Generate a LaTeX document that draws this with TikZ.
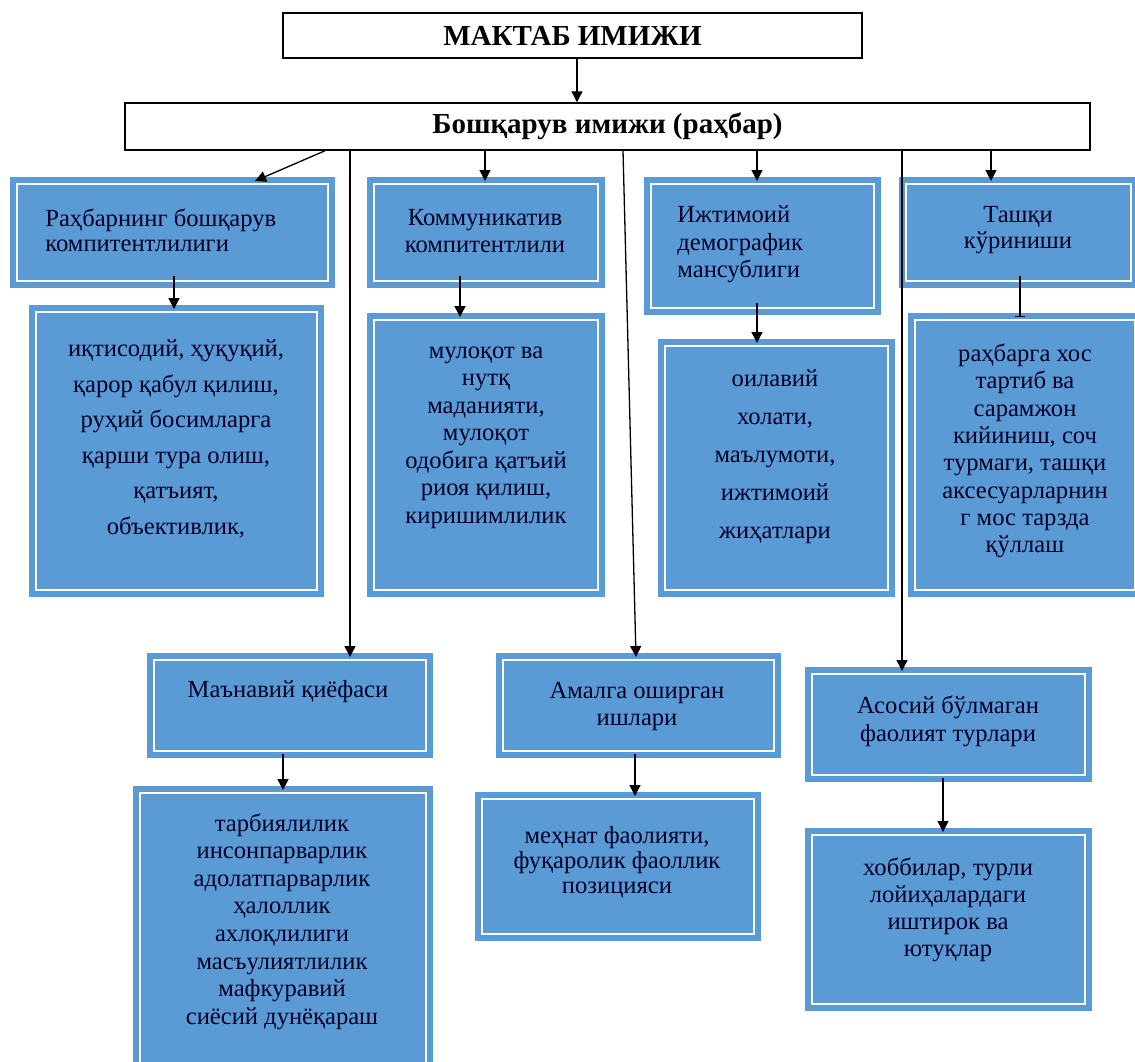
\documentclass[tikz,border=0pt]{standalone}
\usepackage{fontspec}
\setmainfont{Liberation Serif}
\usetikzlibrary{arrows.meta}

\definecolor{boxblue}{RGB}{91,155,213}

\tikzset{
	imgbox/.style = {rectangle, draw = boxblue, fill = boxblue, double = white, double distance = 1.1pt, line width = 3pt, inner sep = 0pt},
	headbox/.style = {rectangle, draw = black, line width = 0.75pt, fill = white, inner sep = 0pt, font = \bfseries\fontsize{14.5}{16}\selectfont},
	txt/.style = {align = center, inner sep = 0pt, text = black!85!blue, font = \fontsize{12.3}{#1}\selectfont},
	txt/.default = 13.5pt,
	lnk/.style = {-{Triangle[width = 5.5pt, length = 5.5pt]}, line width = 0.65pt},
	sublnk/.style = {lnk, shorten <= -4pt},
}

\begin{document}
\begin{tikzpicture}[x = 0.5pt, y = -0.5pt]
	\useasboundingbox (0,0) rectangle (1135,1061);

	\node[headbox, minimum width = 289.5pt, minimum height = 22.5pt](school) at (572.5,35.5){МАКТАБ ИМИЖИ};
	\node[headbox, minimum width = 482.5pt, minimum height = 23.5pt](lead) at (607.5,126.5){Бошқарув имижи (раҳбар)};

	\node[imgbox, minimum width = 155.5pt, minimum height = 48.5pt](b1) at (172.5,232.5){};
	\node[imgbox, minimum width = 112pt, minimum height = 48.5pt](b2) at (486,232.5){};
	\node[imgbox, minimum width = 111.5pt, minimum height = 62pt](b3) at (762.5,246){};
	\node[imgbox, minimum width = 112.5pt, minimum height = 48.5pt](b4) at (1018.5,232.5){};

	\node[imgbox, minimum width = 140.5pt, minimum height = 139pt](b1x) at (176.5,451){};
	\node[imgbox, minimum width = 112pt, minimum height = 135pt](b2x) at (486,455){};
	\node[imgbox, minimum width = 111.5pt, minimum height = 122pt](b3x) at (776.5,468){};
	\node[imgbox, minimum width = 110pt, minimum height = 135pt](b4x) at (1025,455){};

	\node[imgbox, minimum width = 136pt, minimum height = 45.5pt](b5) at (290,705.5){};
	\node[imgbox, minimum width = 135.5pt, minimum height = 45.5pt](b6) at (638.5,705.5){};
	\node[imgbox, minimum width = 136.5pt, minimum height = 50.5pt](b7) at (948.5,724.5){};

	\node[imgbox, minimum width = 143pt, minimum height = 140pt](b5x) at (283,933){};
	\node[imgbox, minimum width = 136pt, minimum height = 67.5pt](b6x) at (618,866.5){};
	\node[imgbox, minimum width = 136.5pt, minimum height = 84.5pt](b7x) at (948.5,919.5){};

	\node[txt = 12.5pt, align = left, anchor = west](t1) at (45,230.5){Раҳбарнинг бошқарув\\компитентлилиги};
	\node[txt](t2) at (485,231.5){Коммуникатив\\компитентлили};
	\node[txt = 13.75pt, align = left, anchor = west](t3) at (677,244.5){Ижтимоий\\демографик\\мансублиги};
	\node[txt = 13pt](t4) at (1018,230){Ташқи\\кўриниши};

	\node[txt = 17.75pt](t1x) at (176,439){иқтисодий, ҳуқуқий,\\қарор қабул қилиш,\\руҳий босимларга\\қарши тура олиш,\\қатъият,\\объективлик,};
	\node[txt = 13.75pt](t2x) at (486,437.5){мулоқот ва\\нутқ\\маданияти,\\мулоқот\\одобига қатъий\\риоя қилиш,\\киришимлилик};
	\node[txt = 19pt](t3x) at (775,456.5){оилавий\\холати,\\маълумоти,\\ижтимоий\\жиҳатлари};
	\node[txt = 13.65pt](t4x) at (1025,451){раҳбарга хос\\тартиб ва\\сарамжон\\кийиниш, соч\\турмаги, ташқи\\аксесуарларнин\\г мос тарзда\\қўллаш};

	\node[txt](t5) at (288,692){Маънавий қиёфаси};
	\node[txt](t6) at (637,706.5){Амалга оширган\\ишлари};
	\node[txt = 14pt](t7) at (948,721){Асосий бўлмаган\\фаолият турлари};

	\node[txt = 13.8pt](t5x) at (282,921.5){тарбиялилик\\инсонпарварлик\\адолатпарварлик\\ҳалоллик\\ахлоқлилиги\\масъулиятлилик\\мафкуравий\\сиёсий дунёқараш};
	\node[txt = 12.5pt](t6x) at (617,862){меҳнат фаолияти,\\фуқаролик фаоллик\\позицияси};
	\node[txt = 13.4pt](t7x) at (948,910){хоббилар, турли\\лойиҳалардаги\\иштирок ва\\ютуқлар};

	\draw[lnk] (school.south -| 577,0) -- (lead.north -| 577,0);
	\draw[lnk] (lead.south -| 325,0) -- (b1.north -| 255,0);
	\draw[lnk] (lead.south -| 350,0) -- (b5.north -| 350,0);
	\draw[lnk] (lead.south -| 485,0) -- (b2.north -| 485,0);
	\draw[lnk] (lead.south -| 623,0) -- (b6.north -| 636,0);
	\draw[lnk] (lead.south -| 757,0) -- (b3.north -| 757,0);
	\draw[lnk] (lead.south -| 902,0) -- (b7.north -| 902,0);
	\draw[lnk] (lead.south -| 991,0) -- (b4.north -| 991,0);

	\draw[sublnk] (b1.south -| 174,0) -- (b1x.north -| 174,0);
	\draw[sublnk] (b2.south -| 460,0) -- (b2x.north -| 460,0);
	\draw[sublnk] (b3.south -| 757,0) -- (b3x.north -| 757,0);
	\draw[sublnk, -{Bar[width = 5pt]}] (b4.south -| 1020,0) -- (b4x.north -| 1020,0);

	\draw[lnk] (b5.south -| 283,0) -- (b5x.north -| 283,0);
	\draw[lnk] (b6.south -| 635,0) -- (b6x.north -| 635,0);
	\draw[lnk] (b7.south -| 943,0) -- (b7x.north -| 943,0);
\end{tikzpicture}
\end{document}
